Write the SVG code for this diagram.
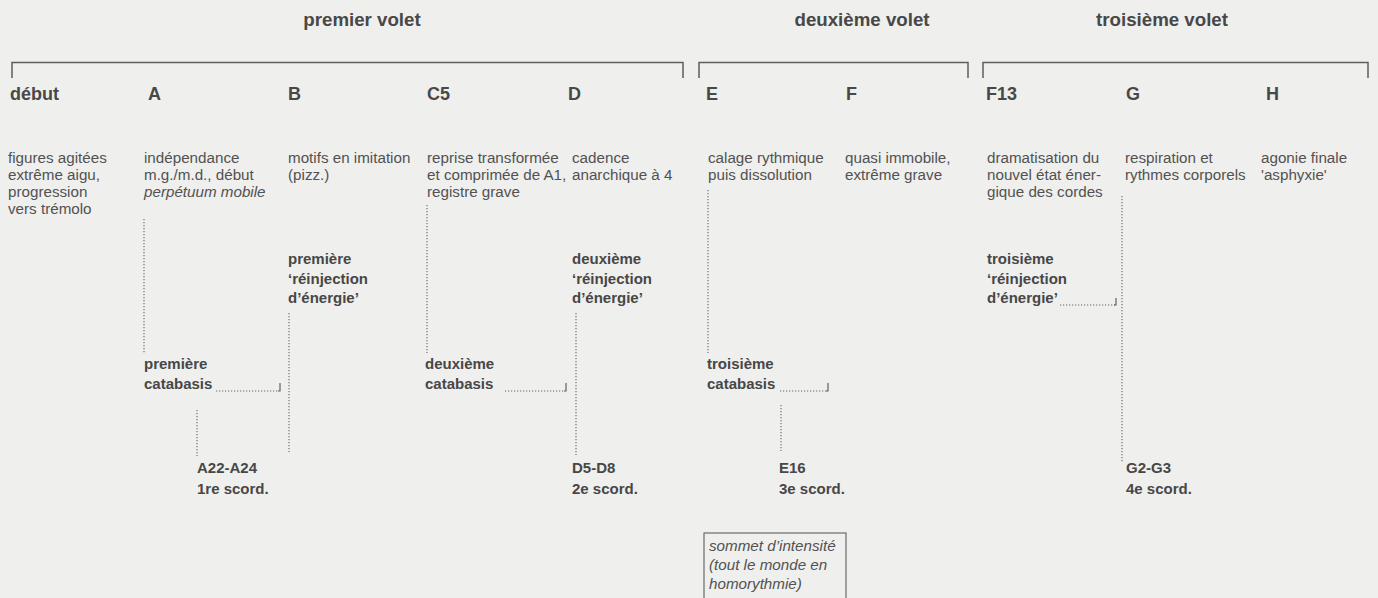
<svg xmlns="http://www.w3.org/2000/svg" width="1378" height="598" viewBox="0 0 1378 598">
<style>
text{font-family:"Liberation Sans",Arial,sans-serif;fill:#525252}
.h{font-size:18.7px;font-weight:bold;fill:#484848}
.l{font-size:18px;font-weight:bold;fill:#484848}
.d{font-size:15.2px}
.i{font-style:italic}
.b{font-size:15px;font-weight:bold;fill:#474747}
.br{fill:none;stroke:#5e5e5e;stroke-width:1.5}
.dot{fill:none;stroke:#666;stroke-width:1.1;stroke-dasharray:1.2 1.8}
.hook{fill:none;stroke:#606060;stroke-width:1.2}
</style>
<rect width="1378" height="598" fill="#efefed"/>

<g id="headers">
<text class="h" x="362" y="26" text-anchor="middle">premier volet</text>
<text class="h" x="862" y="26" text-anchor="middle">deuxième volet</text>
<text class="h" x="1162" y="26" text-anchor="middle">troisième volet</text>
<path class="br" d="M12 78V62.5H683V78"/>
<path class="br" d="M699 78V62.5H968V78"/>
<path class="br" d="M983 78V62.5H1368V78"/>
</g>

<g id="debut">
<text class="l" x="10" y="100">début</text>
<text class="d" x="8" y="163">figures agitées</text>
<text class="d" x="8" y="180">extrême aigu,</text>
<text class="d" x="8" y="197">progression</text>
<text class="d" x="8" y="214">vers trémolo</text>
</g>

<g id="A">
<text class="l" x="148" y="100">A</text>
<text class="d" x="144" y="163">indépendance</text>
<text class="d" x="144" y="180">m.g./m.d., début</text>
<text class="d i" x="144" y="197">perpétuum mobile</text>
</g>

<g id="B">
<text class="l" x="288" y="100">B</text>
<text class="d" x="288" y="163">motifs en imitation</text>
<text class="d" x="288" y="180">(pizz.)</text>
</g>

<g id="C5">
<text class="l" x="427" y="100">C5</text>
<text class="d" x="427" y="163">reprise transformée</text>
<text class="d" x="427" y="180">et comprimée de A1,</text>
<text class="d" x="427" y="197">registre grave</text>
</g>

<g id="D">
<text class="l" x="568" y="100">D</text>
<text class="d" x="572" y="163">cadence</text>
<text class="d" x="572" y="180">anarchique à 4</text>
</g>

<g id="E">
<text class="l" x="706" y="100">E</text>
<text class="d" x="708" y="163">calage rythmique</text>
<text class="d" x="708" y="180">puis dissolution</text>
</g>

<g id="F">
<text class="l" x="846" y="100">F</text>
<text class="d" x="845" y="163">quasi immobile,</text>
<text class="d" x="845" y="180">extrême grave</text>
</g>

<g id="F13">
<text class="l" x="986" y="100">F13</text>
<text class="d" x="987" y="163">dramatisation du</text>
<text class="d" x="987" y="180">nouvel état éner-</text>
<text class="d" x="987" y="197">gique des cordes</text>
</g>

<g id="G">
<text class="l" x="1126" y="100">G</text>
<text class="d" x="1125" y="163">respiration et</text>
<text class="d" x="1125" y="180">rythmes corporels</text>
</g>

<g id="H">
<text class="l" x="1266" y="100">H</text>
<text class="d" x="1261" y="163">agonie finale</text>
<text class="d" x="1261" y="180">'asphyxie'</text>
</g>

<g id="reinjection1">
<text class="b" x="288" y="264">première</text>
<text class="b" x="288" y="284">‘réinjection</text>
<text class="b" x="288" y="303">d’énergie’</text>
</g>

<g id="reinjection2">
<text class="b" x="572" y="264">deuxième</text>
<text class="b" x="572" y="284">‘réinjection</text>
<text class="b" x="572" y="303">d’énergie’</text>
</g>

<g id="reinjection3">
<text class="b" x="987" y="264">troisième</text>
<text class="b" x="987" y="284">‘réinjection</text>
<text class="b" x="987" y="303">d’énergie’</text>
</g>

<g id="catabasis1">
<text class="b" x="144" y="369">première</text>
<text class="b" x="144" y="389">catabasis</text>
</g>

<g id="catabasis2">
<text class="b" x="425" y="369">deuxième</text>
<text class="b" x="425" y="389">catabasis</text>
</g>

<g id="catabasis3">
<text class="b" x="707" y="369">troisième</text>
<text class="b" x="707" y="389">catabasis</text>
</g>

<g id="scord1">
<text class="b" x="197" y="473">A22-A24</text>
<text class="b" x="197" y="494">1re scord.</text>
</g>

<g id="scord2">
<text class="b" x="572" y="473">D5-D8</text>
<text class="b" x="572" y="494">2e scord.</text>
</g>

<g id="scord3">
<text class="b" x="779" y="473">E16</text>
<text class="b" x="779" y="494">3e scord.</text>
</g>

<g id="scord4">
<text class="b" x="1126" y="473">G2-G3</text>
<text class="b" x="1126" y="494">4e scord.</text>
</g>

<g id="sommet">
<rect x="704" y="533" width="142" height="80" fill="none" stroke="#6a6a6a" stroke-width="1.2"/>
<text class="d i" x="709" y="551">sommet d’intensité</text>
<text class="d i" x="709" y="570">(tout le monde en</text>
<text class="d i" x="709" y="589">homorythmie)</text>
</g>

<g id="connectors">
<path class="dot" d="M144 219V353"/>
<path class="dot" d="M427 205V353"/>
<path class="dot" d="M708 190V353"/>
<path class="dot" d="M1122 196V462"/>
<path class="dot" d="M289 313V452"/>
<path class="dot" d="M576 313V455"/>
<path class="dot" d="M197 410V456"/>
<path class="dot" d="M781 405V451"/>
<path class="dot" d="M216 391H279"/>
<path class="hook" d="M280 383V391H278"/>
<path class="dot" d="M505 391H565"/>
<path class="hook" d="M566 383V391H564"/>
<path class="dot" d="M780 391H827"/>
<path class="hook" d="M828 383V391H826"/>
<path class="dot" d="M1060 305H1115"/>
<path class="hook" d="M1116 298V305H1114"/>
</g>
</svg>
